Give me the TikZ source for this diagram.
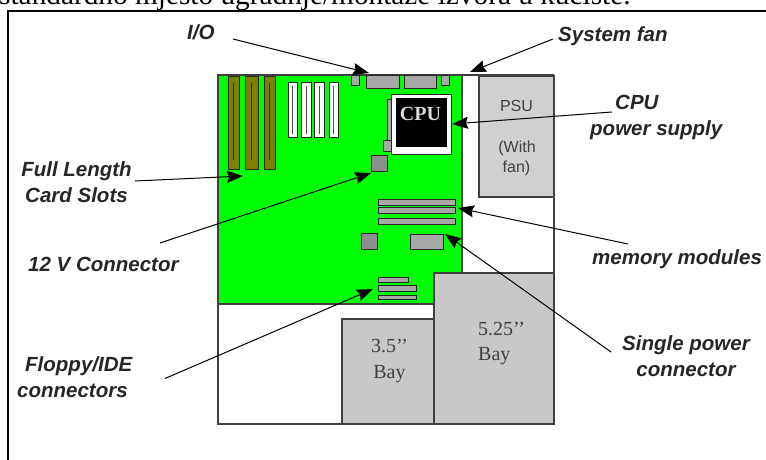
\documentclass[tikz,border=0pt]{standalone}
\usepackage{fontspec}
\setmainfont{Liberation Sans}
\newfontfamily\serifhead{Liberation Serif}
\usetikzlibrary{arrows.meta}
\definecolor{boardgreen}{HTML}{00FF00}
\definecolor{slotbrown}{HTML}{808000}
\definecolor{partgrey}{HTML}{A8A8A8}
\definecolor{squaregrey}{HTML}{8E8E8E}
\definecolor{baygrey}{HTML}{C8C8C8}
\definecolor{psugrey}{HTML}{D0D0D0}
\tikzset{
  x=1pt,y=-1pt,
  part/.style={draw=black!85,line width=1pt,fill=partgrey},
  slotb/.style={draw=black!85,line width=1pt,fill=slotbrown},
  slotw/.style={draw=black!85,line width=1pt,fill=white},
  chassis/.style={draw=black!75,line width=1.2pt},
  lbl/.style={font=\fontsize{20.5}{26}\selectfont\bfseries\itshape,inner sep=0pt,text=black!85,anchor=west},
  pointer/.style={draw=black,line width=1pt,-{Stealth[length=16pt,width=12pt,inset=2pt]}},
  baytext/.style={font=\serifhead\fontsize{20}{25.5}\selectfont,inner sep=0pt,text=black!75},
  psutext/.style={font=\fontsize{16}{20}\selectfont,inner sep=0pt,text=black!75},
}
\begin{document}
\begin{tikzpicture}
\useasboundingbox (0,0) rectangle (766,460);
\clip (0,0) rectangle (766,460);
\fill[white] (0,0) rectangle (766,460);
% page heading and frame
\node[anchor=base west,inner sep=0pt,font=\serifhead\fontsize{29.3}{32}\selectfont] (head) at (-1,4.5) {standardno mjesto ugradnje/montaže izvora u kućište.};
\draw[line width=1.6pt] (8,460) -- (8,11) -- (766,11);
% board
\draw[chassis,fill=boardgreen] (218,75) rectangle (462,304);
% chassis
\draw[chassis] (218,304) -- (218,424) -- (554,424) -- (554,76);
\draw[chassis] (218,75) -- (554,75);
% PSU
\draw[chassis,fill=psugrey] (479,76) rectangle (554,197);
\node[psutext] (psu) at (516.5,106) {PSU};
\node[psutext] (psub) at (517,148) {(With};
\node[psutext] (psuc) at (516.5,168) {fan)};
% bays
\draw[chassis,fill=baygrey] (434,273) rectangle (554,424);
\draw[chassis,fill=baygrey] (342,319) rectangle (434,424);
\node[baytext,align=left,anchor=west] (bayb) at (478,343.5) {5.25’’\\Bay};
\node[baytext,align=center] (baya) at (389.5,361) {3.5’’\\Bay};
% card slots
\foreach \a/\b in {228.5/239,245/258,264/275}{
  \draw[slotb] (\a,77) rectangle (\b,169);
  \draw[black!85,line width=1pt] ({(\a+\b)/2},83) -- ({(\a+\b)/2},160);
}
\foreach \a/\b in {288/297,301/311,314/324,329/338}{
  \draw[slotw] (\a,83) rectangle (\b,137);
  \draw[black!70,line width=1pt] ({(\a+\b)/2},86) -- ({(\a+\b)/2},134);
}
% I/O
\draw[part] (351,76) rectangle (359,86);
\draw[part] (366,76) rectangle (399,89);
\draw[part] (404,76) rectangle (436,89);
\draw[part] (441,76) rectangle (449,86);
% CPU
\draw[part] (387,99) rectangle (391,140);
\draw[part] (383,140) rectangle (391,151);
\draw[draw=black!85,line width=1pt,fill=white] (391,94.5) rectangle (451,154);
\fill[black] (396,98) rectangle (447,147);
\node[font=\serifhead\bfseries\fontsize{20}{22}\selectfont,text=black!15,inner sep=0pt] (cpu) at (420.5,113.5) {CPU};
\node[part,minimum width=16pt,minimum height=16pt,inner sep=0pt,anchor=north west,fill=squaregrey] (vconn) at (371,155) {};
% memory
\foreach \y/\z in {199.5/205,207.5/213,218/224}{\draw[part] (378,\y) rectangle (455,\z);}
\node[part,minimum width=16pt,minimum height=16pt,inner sep=0pt,anchor=north west,fill=squaregrey] (sq) at (361,233) {};
\node[part,minimum width=33pt,minimum height=15pt,inner sep=0pt,anchor=north west] (pwr) at (410,234) {};
% floppy
\draw[part] (378,277) rectangle (408,282);
\draw[part] (378,285.5) rectangle (416,291);
\draw[part] (378,295) rectangle (416,299);
% labels
\node[lbl] (lio) at (187,32) {I/O};
\node[lbl] (lfan) at (558,36) {System fan};
\node[lbl,align=left] (lcpu) at (590,117) {\hspace*{25pt}CPU\\power supply};
\node[lbl,align=center,anchor=center] (lcard) at (76.5,182) {Full Length\\Card Slots};
\node[lbl] (lv) at (28,264) {12 V Connector};
\node[lbl] (lmem) at (592,259) {memory modules};
\node[lbl,align=center,anchor=center] (lsingle) at (686,356) {Single power\\connector};
\node[lbl,align=left] (lfloppy) at (17,377.5) {\hspace*{8pt}Floppy/IDE\\connectors};
% connector ends
\coordinate (a1) at (233,39); \coordinate (a2) at (369,73);
\coordinate (b1) at (553,39); \coordinate (b2) at (470,72);
\coordinate (c1) at (612,112); \coordinate (c2) at (452,124);
\coordinate (d1) at (135,181); \coordinate (d2) at (243,176);
\coordinate (e1) at (160,243); \coordinate (e2) at (371,173);
\coordinate (f1) at (628,244); \coordinate (f2) at (458,208);
\coordinate (g1) at (611,352); \coordinate (g2) at (445,234);
\coordinate (h1) at (165,378.5); \coordinate (h2) at (373,289);
\foreach \s/\t in {a1/a2,b1/b2,c1/c2,d1/d2,e1/e2,f1/f2,g1/g2,h1/h2}{\draw[pointer] (\s) -- (\t);}
\end{tikzpicture}
\end{document}
